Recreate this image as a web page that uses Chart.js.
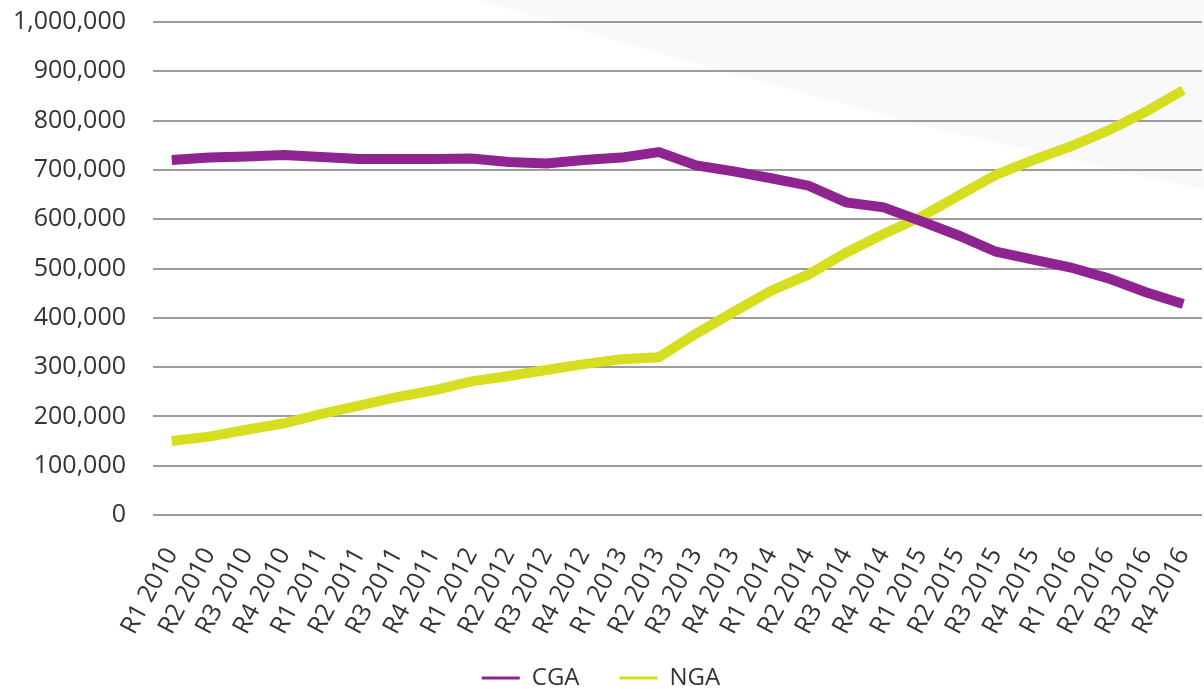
<!DOCTYPE html>
<html>
<head>
<meta charset="utf-8">
<script src="https://cdn.jsdelivr.net/npm/chart.js@4.4.1/dist/chart.umd.min.js"></script>
<style>
  html, body { margin: 0; padding: 0; background: #fff; }
  #wrap { position: relative; width: 1204px; height: 689px; overflow: hidden; }
  /* pale diagonal shape in the top right corner */
  #shade {
    position: absolute; left: 0; top: 0; width: 1204px; height: 689px;
    background: #f9f9fc;
    clip-path: polygon(478px 0, 1204px 0, 1204px 190px, 933px 128px, 676px 58px);
  }
  #chart { position: absolute; left: 0; top: 0; }
</style>
</head>
<body>
<div id="wrap">
  <div id="shade"></div>
  <canvas id="chart" width="1204" height="689"></canvas>
</div>
<script>
// Quarter labels
const quarters = [
  'R1 2010', 'R2 2010', 'R3 2010', 'R4 2010',
  'R1 2011', 'R2 2011', 'R3 2011', 'R4 2011',
  'R1 2012', 'R2 2012', 'R3 2012', 'R4 2012',
  'R1 2013', 'R2 2013', 'R3 2013', 'R4 2013',
  'R1 2014', 'R2 2014', 'R3 2014', 'R4 2014',
  'R1 2015', 'R2 2015', 'R3 2015', 'R4 2015',
  'R1 2016', 'R2 2016', 'R3 2016', 'R4 2016'
];

// Series values
const cgaValues = [
  720000, 725000, 727000, 730000, 726000, 722000, 722000, 722000,
  723000, 716000, 713000, 720000, 725000, 736000, 709000, 697000,
  683000, 668000, 634000, 624000, 596000, 567000, 534000, 518000,
  502000, 480000, 452000, 428000
];
const ngaValues = [
  150000, 159000, 173000, 186000, 205000, 222000, 239000, 253000,
  271000, 282000, 294000, 306000, 316000, 320000, 368000, 412000,
  455000, 488000, 532000, 570000, 605000, 648000, 690000, 720000,
  748000, 780000, 818000, 862000
];

const seriesNames = ['CGA', 'NGA'];
const seriesColors = ['#8f2490', '#d6df1f'];

const yMin = 0;
const yMax = 1000000;
const yStep = 100000;

const textColor = '#333333';
const fontFamily = '"Open Sans", "Noto Sans", sans-serif';

new Chart(document.getElementById('chart'), {
  type: 'line',
  data: {
    labels: quarters,
    datasets: [
      { label: seriesNames[0], data: cgaValues },
      { label: seriesNames[1], data: ngaValues }
    ].map((ds, i) => ({
      ...ds,
      borderColor: seriesColors[i],
      backgroundColor: seriesColors[i],
      borderWidth: 10,
      pointRadius: 0,
      tension: 0,
      fill: false
    }))
  },
  options: {
    responsive: false,
    devicePixelRatio: 1,
    animation: false,
    locale: 'en-US',
    layout: { padding: { top: 22, right: 2, bottom: -11, left: 0 } },
    scales: {
      x: {
        offset: true,
        grid: { display: false, drawTicks: false },
        border: { display: false },
        ticks: {
          autoSkip: false,
          minRotation: 62,
          maxRotation: 62,
          padding: 28,
          color: textColor,
          font: { family: fontFamily, size: 25 }
        },
        afterFit: axis => {
          axis.height = 111;
          axis.paddingLeft = 0;
          axis.paddingRight = 0;
          // labels run a bit below the axis box, don't clip them
          axis._computeLabelArea = () => null;
        }
      },
      y: {
        min: yMin,
        max: yMax,
        grid: { color: '#9c9c9f', lineWidth: 2, drawTicks: false },
        border: { display: false },
        ticks: {
          stepSize: yStep,
          padding: 27,
          color: textColor,
          font: { family: fontFamily, size: 25 }
        },
        afterFit: axis => {
          axis.width = 153;
          axis.paddingTop = 0;
          axis.paddingBottom = 0;
        }
      }
    },
    plugins: {
      tooltip: { enabled: false },
      legend: {
        position: 'bottom',
        labels: {
          color: textColor,
          font: { family: fontFamily, size: 24 },
          boxWidth: 38,
          boxHeight: 3,
          padding: 40,
          generateLabels: chart =>
            Chart.defaults.plugins.legend.labels.generateLabels(chart)
              .map(item => ({ ...item, lineWidth: 0 }))
        }
      }
    }
  }
});
</script>
</body>
</html>
